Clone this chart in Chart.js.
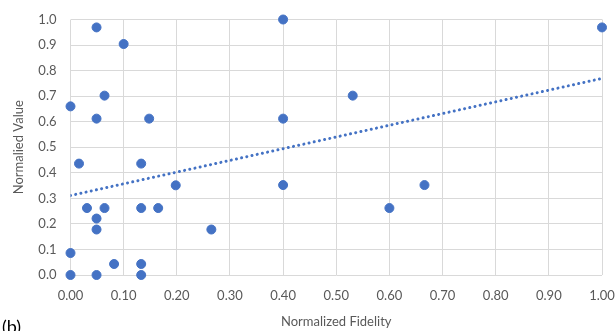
<!DOCTYPE html>
<html>
<head>
<meta charset="utf-8">
<script src="https://cdn.jsdelivr.net/npm/chart.js@4"></script>
<style>
  html, body { margin: 0; padding: 0; background: #fff; }
  #wrap { position: relative; width: 616px; height: 331px; overflow: hidden; }
  #c { display: block; }
  #lbl { position: absolute; left: 2px; top: 315px; font-family: Lato, "Open Sans", sans-serif; font-size: 18px; color: #000; }
</style>
</head>
<body>
<div id="wrap">
  <canvas id="c" width="616" height="331"></canvas>
  <div id="lbl">(b)</div>
</div>
<script>
// Data
const fidelity = [0.049, 0.100, 0.064, 0.000, 0.049, 0.148, 0.016, 0.133, 0.198, 0.031,
                  0.064, 0.133, 0.165, 0.049, 0.049, 0.000, 0.082, 0.133, 0.000, 0.049,
                  0.133, 0.400, 0.531, 0.400, 0.400, 0.265, 0.600, 0.666, 1.000];
const values   = [0.969, 0.904, 0.702, 0.660, 0.612, 0.612, 0.436, 0.436, 0.351, 0.262,
                  0.262, 0.262, 0.262, 0.221, 0.178, 0.086, 0.043, 0.043, 0.000, 0.000,
                  0.000, 1.000, 0.702, 0.612, 0.352, 0.178, 0.262, 0.352, 0.969];
const xTickLabels = ["0.00","0.10","0.20","0.30","0.40","0.50","0.60","0.70","0.80","0.90","1.00"];
const yTickLabels = ["0.0","0.1","0.2","0.3","0.4","0.5","0.6","0.7","0.8","0.9","1.0"];
const xTitle = "Normalized Fidelity";
const yTitle = "Normalied Value";

const points = fidelity.map((x, i) => ({ x: x, y: values[i] }));

// Linear trendline (least squares) computed from the data
const n = fidelity.length;
const mx = fidelity.reduce((a, b) => a + b, 0) / n;
const my = values.reduce((a, b) => a + b, 0) / n;
let sxy = 0, sxx = 0;
for (let i = 0; i < n; i++) { sxy += (fidelity[i] - mx) * (values[i] - my); sxx += (fidelity[i] - mx) ** 2; }
const slope = sxy / sxx, intercept = my - slope * mx;
const trend = [0, 1].map(x => ({ x: x, y: intercept + slope * x }));

const blue = '#4472C4';
const grey = '#595959';
const font = { family: 'Lato, "Open Sans", sans-serif', size: 13 };

new Chart(document.getElementById('c'), {
  type: 'scatter',
  data: {
    datasets: [
      { data: points, backgroundColor: blue, borderColor: blue, pointRadius: 4.5, pointHoverRadius: 4.5, clip: false, order: 1 },
      { type: 'line', data: trend, borderColor: blue, borderWidth: 3, borderDash: [0.01, 5.3], borderCapStyle: 'round',
        pointRadius: 0, fill: false, order: 2 }
    ]
  },
  options: {
    responsive: false,
    animation: false,
    events: [],
    layout: { padding: { top: 19.5, right: 14, left: 0, bottom: 0 } },
    plugins: { legend: { display: false }, tooltip: { enabled: false } },
    scales: {
      x: {
        type: 'linear', min: 0, max: 1,
        afterFit: s => { s.height = 56; s.paddingLeft = 0; s.paddingRight = 0; },
        grid: { color: '#d9d9d9', lineWidth: 1, drawTicks: false },
        border: { display: false },
        ticks: { stepSize: 0.1, padding: 13, color: grey, font: font,
                 callback: (v, i) => xTickLabels[i] },
        title: { display: true, text: xTitle, color: grey, font: font, padding: { top: 0, bottom: 1 } }
      },
      y: {
        type: 'linear', min: 0, max: 1,
        afterFit: s => { s.width = 70.5; s.paddingTop = 0; s.paddingBottom = 0; },
        grid: { color: '#d9d9d9', lineWidth: 1, drawTicks: false },
        border: { display: false },
        ticks: { stepSize: 0.1, padding: 14, color: grey, font: font,
                 callback: (v, i) => yTickLabels[i] },
        title: { display: true, text: yTitle, color: grey, font: font, padding: { top: 11, bottom: 0 } }
      }
    }
  }
});
</script>
</body>
</html>
